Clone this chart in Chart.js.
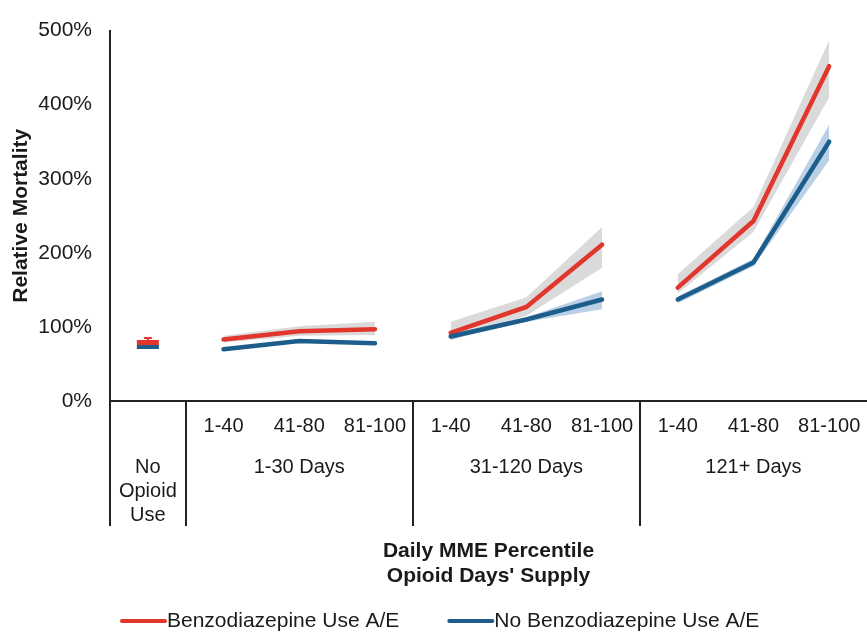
<!DOCTYPE html>
<html>
<head>
<meta charset="utf-8">
<script src="https://cdn.jsdelivr.net/npm/chart.js@4/dist/chart.umd.min.js"></script>
<style>
  body { margin: 0; background: #fff; }
  canvas { display: block; }
</style>
</head>
<body>
<canvas id="mortalityChart" width="867" height="633"></canvas>
<script>
// categories: first slot is the "No Opioid Use" reference, then 3 supply groups x 3 MME percentiles
const categories = ['No Opioid Use', '1-40', '41-80', '81-100', '1-40', '41-80', '81-100', '1-40', '41-80', '81-100']
const percentileLabels = ['1-40', '41-80', '81-100']
const supplyGroups = ['1-30 Days', '31-120 Days', '121+ Days']
const noOpioidLabel = ['No', 'Opioid', 'Use']
const xTitle = ['Daily MME Percentile', "Opioid Days' Supply"]
const yTicks = [0, 100, 200, 300, 400, 500]

// relative mortality (A/E, %) and confidence band
const benzo = [null, 83, 94, 97, 92, 127, 211, 153, 243, 452]
const benzoHi = [null, 88, 101, 107, 107, 140, 235, 171, 262, 487]
const benzoLo = [null, 79, 88, 89, 82, 115, 180, 145, 228, 410]
const noBenzo = [null, 70, 81, 78, 87, 110, 137, 137, 187, 350]
const noBenzoHi = [null, 72, 83, 80, 90, 113, 148, 141, 192, 373]
const noBenzoLo = [null, 68, 79, 76, 83, 107, 124, 132, 182, 325]

// no opioid use reference points
const benzoNoOpioid = [79, null, null, null, null, null, null, null, null, null]
const benzoNoOpioidHi = [85, null, null, null, null, null, null, null, null, null]
const noBenzoNoOpioid = [73, null, null, null, null, null, null, null, null, null]

const legendItems = ['Benzodiazepine Use A/E', 'No Benzodiazepine Use A/E']

const RED = '#e2352b'
const BLUE = '#1d5d8b'
const TEXT = '#1a1a1a'
const FONT = "'Liberation Sans', Arial, Helvetica, sans-serif"

// lines are broken between supply groups
const groupBreak = (ctx) => ctx.p0DataIndex === 3 || ctx.p0DataIndex === 6
const brokenSegment = {
  borderColor: (ctx) => (groupBreak(ctx) ? 'rgba(0,0,0,0)' : undefined),
  backgroundColor: (ctx) => (groupBreak(ctx) ? 'rgba(0,0,0,0)' : undefined)
}

function band(data, fill, color) {
  return {
    data: data,
    borderWidth: 0,
    pointRadius: 0,
    fill: fill,
    backgroundColor: color,
    segment: brokenSegment
  }
}

// table under the x axis, axis title and legend
const tablePlugin = {
  id: 'tableAxis',
  afterDraw(chart) {
    const ctx = chart.ctx
    const area = chart.chartArea
    const x = chart.scales.x
    const top = area.bottom
    const bottom = top + 125
    ctx.save()
    ctx.strokeStyle = '#222'
    ctx.lineWidth = 2
    ctx.beginPath()
    ctx.moveTo(area.left, top)
    ctx.lineTo(area.left, bottom)
    for (const i of [1, 4, 7]) {
      const bx = Math.round((x.getPixelForTick(i - 1) + x.getPixelForTick(i)) / 2)
      ctx.moveTo(bx, top)
      ctx.lineTo(bx, bottom)
    }
    ctx.stroke()

    ctx.fillStyle = TEXT
    ctx.textAlign = 'center'
    ctx.textBaseline = 'middle'
    ctx.font = '20px ' + FONT
    for (let i = 1; i < categories.length; i++) {
      ctx.fillText(percentileLabels[(i - 1) % 3], x.getPixelForTick(i), top + 25)
    }
    supplyGroups.forEach((g, k) => {
      ctx.fillText(g, x.getPixelForTick(3 * k + 2), top + 66)
    })
    noOpioidLabel.forEach((t, k) => {
      ctx.fillText(t, x.getPixelForTick(0), top + 66 + k * 24)
    })

    ctx.font = 'bold 21px ' + FONT
    const cx = (area.left + area.right) / 2
    xTitle.forEach((t, k) => {
      ctx.fillText(t, cx, top + 150 + k * 25)
    })

    // legend
    ctx.font = '21px ' + FONT
    ctx.textAlign = 'left'
    ctx.lineWidth = 4
    ctx.lineCap = 'round'
    const colors = [RED, BLUE]
    let lx = 122
    const ly = 621
    legendItems.forEach((t, k) => {
      ctx.strokeStyle = colors[k]
      ctx.beginPath()
      ctx.moveTo(lx, ly)
      ctx.lineTo(lx + 43, ly)
      ctx.stroke()
      ctx.fillText(t, lx + 45, ly)
      lx += 45 + ctx.measureText(t).width + 50
    })
    ctx.restore()
  }
}

// cap on the no opioid use benzodiazepine point
const errorBarPlugin = {
  id: 'errorBar',
  afterDatasetsDraw(chart) {
    const ctx = chart.ctx
    const x = chart.scales.x
    const y = chart.scales.y
    ctx.save()
    ctx.strokeStyle = RED
    ctx.lineWidth = 2
    benzoNoOpioidHi.forEach((hi, i) => {
      if (hi === null) return
      const px = x.getPixelForTick(i)
      const yHi = y.getPixelForValue(hi)
      const yMid = y.getPixelForValue(benzoNoOpioid[i])
      ctx.beginPath()
      ctx.moveTo(px, yMid)
      ctx.lineTo(px, yHi)
      ctx.moveTo(px - 4, yHi)
      ctx.lineTo(px + 4, yHi)
      ctx.stroke()
    })
    ctx.restore()
  }
}

const config = {
  type: 'line',
  data: {
    labels: categories,
    datasets: [
      {
        label: legendItems[1],
        data: noBenzo,
        borderColor: BLUE,
        borderWidth: 4.5,
        borderCapStyle: 'round',
        pointRadius: 0,
        segment: brokenSegment
      },
      {
        label: legendItems[0],
        data: benzo,
        borderColor: RED,
        borderWidth: 4.5,
        borderCapStyle: 'round',
        pointRadius: 0,
        segment: brokenSegment
      },
      {
        data: benzoNoOpioid,
        showLine: false,
        pointStyle: 'line',
        pointRadius: 11,
        pointBorderWidth: 5,
        pointBorderColor: RED
      },
      {
        data: noBenzoNoOpioid,
        showLine: false,
        pointStyle: 'line',
        pointRadius: 11,
        pointBorderWidth: 4,
        pointBorderColor: BLUE
      },
      band(noBenzoHi, '+1', 'rgba(130, 170, 205, 0.55)'),
      band(noBenzoLo, false, 'rgba(0,0,0,0)'),
      band(benzoHi, '+1', 'rgba(205, 205, 205, 0.75)'),
      band(benzoLo, false, 'rgba(0,0,0,0)')
    ]
  },
  options: {
    responsive: false,
    animation: false,
    layout: {
      autoPadding: false,
      padding: { top: 23, left: 6, right: 0, bottom: 232 }
    },
    plugins: {
      legend: { display: false },
      tooltip: { enabled: false }
    },
    elements: {
      line: { tension: 0 }
    },
    scales: {
      x: {
        type: 'category',
        offset: true,
        grid: { display: false, drawTicks: false },
        ticks: { display: false },
        border: { color: '#222', width: 2 }
      },
      y: {
        min: 0,
        max: 500,
        afterBuildTicks: (axis) => {
          axis.ticks = yTicks.map((v) => ({ value: v }))
        },
        afterFit: (axis) => {
          axis.width = 104
        },
        ticks: {
          padding: 18,
          color: TEXT,
          font: { family: FONT, size: 21 },
          callback: (v) => v + '%'
        },
        grid: { display: false, drawTicks: false },
        border: { color: '#222', width: 2 },
        title: {
          display: true,
          text: 'Relative Mortality',
          color: TEXT,
          font: { family: FONT, size: 21, weight: 'bold' },
          padding: { top: 3, bottom: 4 }
        }
      }
    }
  },
  plugins: [tablePlugin, errorBarPlugin]
}

new Chart(document.getElementById('mortalityChart'), config)
</script>
</body>
</html>
